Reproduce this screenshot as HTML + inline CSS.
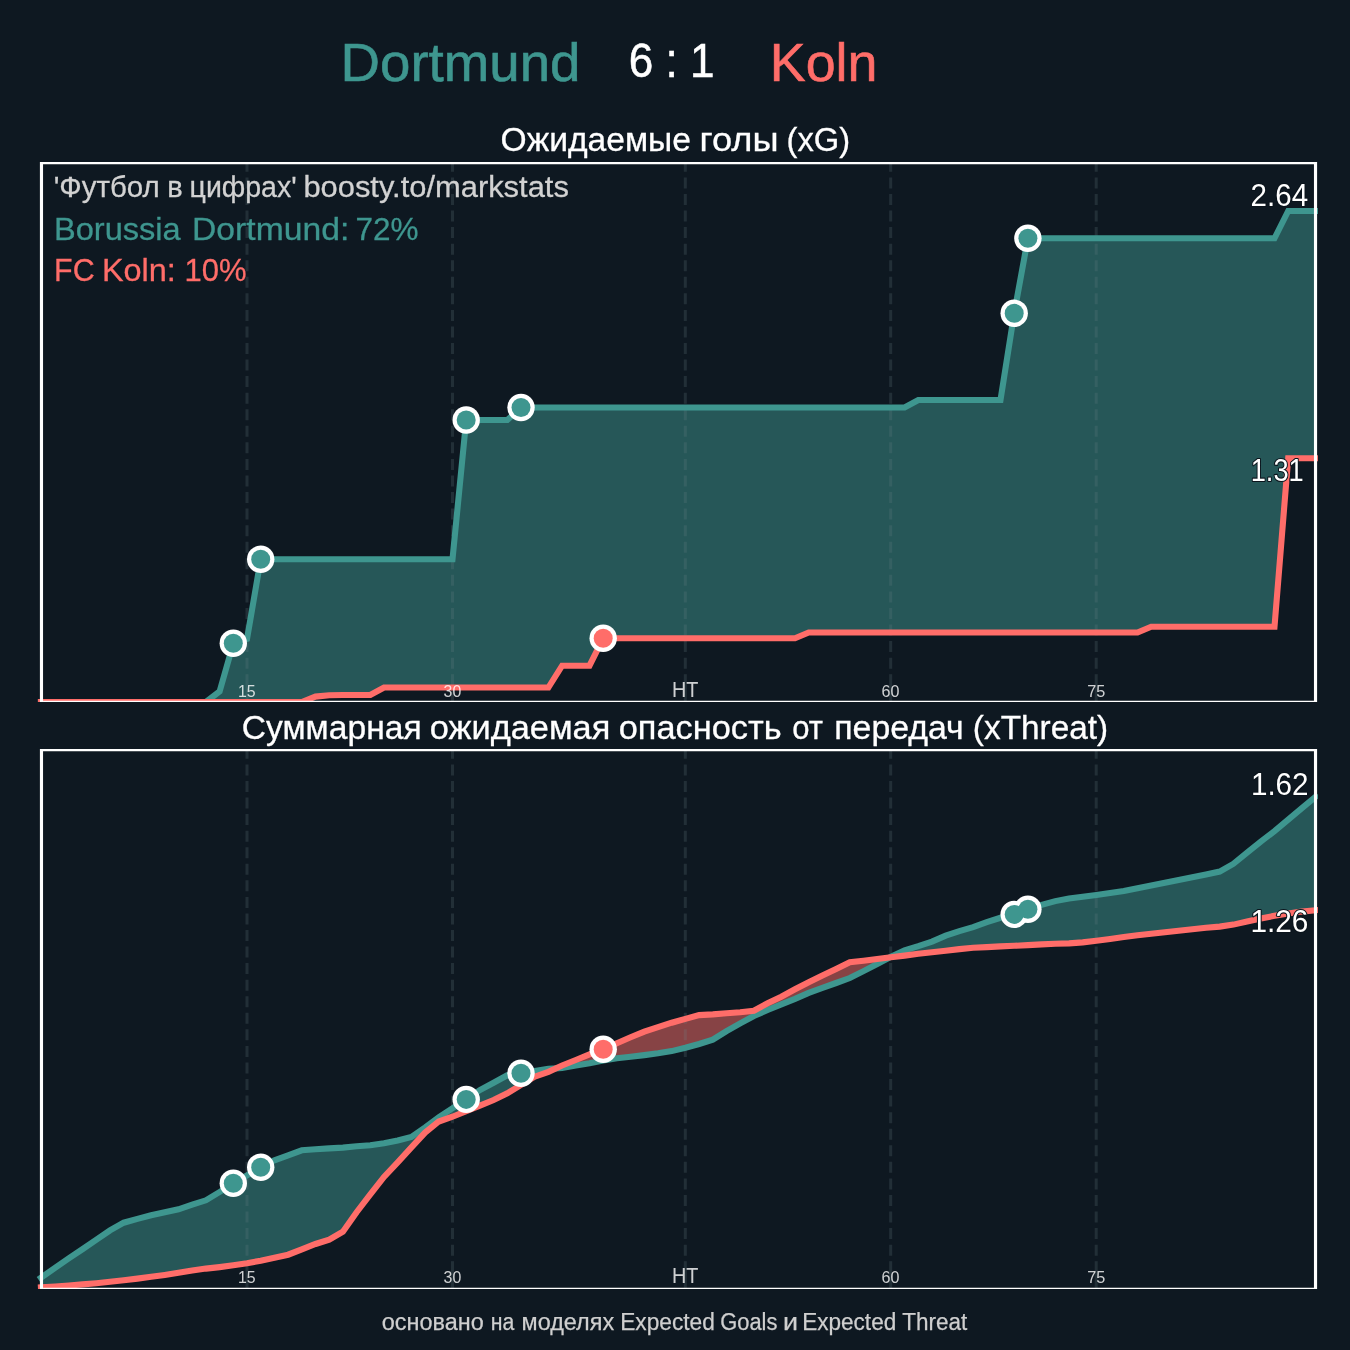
<!DOCTYPE html>
<html><head><meta charset="utf-8"><title>Dortmund 6 : 1 Koln</title>
<style>
html,body{margin:0;padding:0;background:#0e1821;}
svg{display:block;font-family:"Liberation Sans",sans-serif;}
</style></head><body>
<svg width="1350" height="1350" viewBox="0 0 1350 1350">
<rect width="1350" height="1350" fill="#0e1821"/>
<text x="340.59" y="80.8" font-size="54.5" fill="#3e968f" stroke="#3e968f" stroke-width="0.6" textLength="239.89" lengthAdjust="spacingAndGlyphs">Dortmund</text>
<text x="628.83" y="77.4" font-size="47.2" fill="#fff" stroke="#fff" stroke-width="0.5" textLength="85.78" lengthAdjust="spacingAndGlyphs">6 : 1</text>
<text x="769.79" y="80.8" font-size="54.5" fill="#ff6d69" stroke="#ff6d69" stroke-width="0.6" textLength="107.69" lengthAdjust="spacingAndGlyphs">Koln</text>
<text x="500.52" y="151.4" font-size="32.5" fill="#fff" stroke="#fff" stroke-width="0.3" textLength="190.45" lengthAdjust="spacingAndGlyphs">Ожидаемые</text><text x="699.53" y="151.4" font-size="32.5" fill="#fff" stroke="#fff" stroke-width="0.3" textLength="78.97" lengthAdjust="spacingAndGlyphs">голы</text><text x="786.52" y="151.4" font-size="32.5" fill="#fff" stroke="#fff" stroke-width="0.3" textLength="63.50" lengthAdjust="spacingAndGlyphs">(xG)</text>
<text x="241.81" y="738.5" font-size="32.5" fill="#fff" stroke="#fff" stroke-width="0.3" textLength="179.82" lengthAdjust="spacingAndGlyphs">Суммарная</text><text x="429.81" y="738.5" font-size="32.5" fill="#fff" stroke="#fff" stroke-width="0.3" textLength="180.51" lengthAdjust="spacingAndGlyphs">ожидаемая</text><text x="618.73" y="738.5" font-size="32.5" fill="#fff" stroke="#fff" stroke-width="0.3" textLength="162.96" lengthAdjust="spacingAndGlyphs">опасность</text><text x="792.13" y="738.5" font-size="32.5" fill="#fff" stroke="#fff" stroke-width="0.3" textLength="30.77" lengthAdjust="spacingAndGlyphs">от</text><text x="834.29" y="738.5" font-size="32.5" fill="#fff" stroke="#fff" stroke-width="0.3" textLength="129.45" lengthAdjust="spacingAndGlyphs">передач</text><text x="972.89" y="738.5" font-size="32.5" fill="#fff" stroke="#fff" stroke-width="0.3" textLength="135.32" lengthAdjust="spacingAndGlyphs">(xThreat)</text>
<text x="381.71" y="1330.2" font-size="24.7" fill="#cfcfcf" stroke="#cfcfcf" stroke-width="0.25" textLength="101.97" lengthAdjust="spacingAndGlyphs">основано</text><text x="490.70" y="1330.2" font-size="24.7" fill="#cfcfcf" stroke="#cfcfcf" stroke-width="0.25" textLength="23.59" lengthAdjust="spacingAndGlyphs">на</text><text x="521.59" y="1330.2" font-size="24.7" fill="#cfcfcf" stroke="#cfcfcf" stroke-width="0.25" textLength="92.51" lengthAdjust="spacingAndGlyphs">моделях</text><text x="620.13" y="1330.2" font-size="24.7" fill="#cfcfcf" stroke="#cfcfcf" stroke-width="0.25" textLength="94.73" lengthAdjust="spacingAndGlyphs">Expected</text><text x="720.20" y="1330.2" font-size="24.7" fill="#cfcfcf" stroke="#cfcfcf" stroke-width="0.25" textLength="57.20" lengthAdjust="spacingAndGlyphs">Goals</text><text x="783.05" y="1330.2" font-size="24.7" fill="#cfcfcf" stroke="#cfcfcf" stroke-width="0.25" textLength="15.01" lengthAdjust="spacingAndGlyphs">и</text><text x="802.16" y="1330.2" font-size="24.7" fill="#cfcfcf" stroke="#cfcfcf" stroke-width="0.25" textLength="94.09" lengthAdjust="spacingAndGlyphs">Expected</text><text x="902.31" y="1330.2" font-size="24.7" fill="#cfcfcf" stroke="#cfcfcf" stroke-width="0.25" textLength="65.09" lengthAdjust="spacingAndGlyphs">Threat</text>
<polygon points="205.90,702.0 219.60,691.5 233.30,643.3 247.00,639.0 260.70,559.3 274.40,559.3 288.10,559.3 301.80,559.3 315.50,559.3 329.20,559.3 342.90,559.3 356.60,559.3 370.30,559.3 384.00,559.3 397.70,559.3 411.40,559.3 425.10,559.3 438.80,559.3 452.50,559.3 466.20,420.0 479.90,420.0 493.60,420.0 507.30,420.0 521.00,407.5 534.70,407.5 548.40,407.5 562.10,407.5 575.80,407.5 589.50,407.5 603.20,407.5 616.90,407.5 630.60,407.5 644.30,407.5 658.00,407.5 671.70,407.5 685.40,407.5 699.10,407.5 712.80,407.5 726.50,407.5 740.20,407.5 753.90,407.5 767.60,407.5 781.30,407.5 795.00,407.5 808.70,407.5 822.40,407.5 836.10,407.5 849.80,407.5 863.50,407.5 877.20,407.5 890.90,407.5 904.60,407.5 918.30,400.0 932.00,400.0 945.70,400.0 959.40,400.0 973.10,400.0 986.80,400.0 1000.50,400.0 1014.20,313.3 1027.90,238.3 1041.60,238.3 1055.30,238.3 1069.00,238.3 1082.70,238.3 1096.40,238.3 1110.10,238.3 1123.80,238.3 1137.50,238.3 1151.20,238.3 1164.90,238.3 1178.60,238.3 1192.30,238.3 1206.00,238.3 1219.70,238.3 1233.40,238.3 1247.10,238.3 1260.80,238.3 1274.50,238.3 1288.20,211.0 1301.90,211.0 1315.60,211.0 1315.60,458.2 1301.90,458.2 1288.20,458.2 1274.50,626.7 1260.80,626.7 1247.10,626.7 1233.40,626.7 1219.70,626.7 1206.00,626.7 1192.30,626.7 1178.60,626.7 1164.90,626.7 1151.20,626.7 1137.50,632.5 1123.80,632.5 1110.10,632.5 1096.40,632.5 1082.70,632.5 1069.00,632.5 1055.30,632.5 1041.60,632.5 1027.90,632.5 1014.20,632.5 1000.50,632.5 986.80,632.5 973.10,632.5 959.40,632.5 945.70,632.5 932.00,632.5 918.30,632.5 904.60,632.5 890.90,632.5 877.20,632.5 863.50,632.5 849.80,632.5 836.10,632.5 822.40,632.5 808.70,632.5 795.00,638.3 781.30,638.3 767.60,638.3 753.90,638.3 740.20,638.3 726.50,638.3 712.80,638.3 699.10,638.3 685.40,638.3 671.70,638.3 658.00,638.3 644.30,638.3 630.60,638.3 616.90,638.3 603.20,638.3 589.50,665.7 575.80,665.7 562.10,665.7 548.40,687.5 534.70,687.5 521.00,687.5 507.30,687.5 493.60,687.5 479.90,687.5 466.20,687.5 452.50,687.5 438.80,687.5 425.10,687.5 411.40,687.5 397.70,687.5 384.00,687.5 370.30,695.0 356.60,695.0 342.90,695.0 329.20,695.3 315.50,696.6 301.80,702.0 288.10,702.0 274.40,702.0 260.70,702.0 247.00,702.0 233.30,702.0 219.60,702.0 205.90,702.0" fill="#3e968f" fill-opacity="0.5"/>
<path d="M247 702V674.2" stroke="#6d858a" stroke-opacity="0.22" stroke-width="3.0" fill="none"/>
<path d="M247 668.64V163" stroke="#6d858a" stroke-opacity="0.22" stroke-width="3.0" stroke-dasharray="11 5.56" fill="none"/>
<path d="M452.5 702V674.2" stroke="#6d858a" stroke-opacity="0.22" stroke-width="3.0" fill="none"/>
<path d="M452.5 668.64V163" stroke="#6d858a" stroke-opacity="0.22" stroke-width="3.0" stroke-dasharray="11 5.56" fill="none"/>
<path d="M685.3 702V674.2" stroke="#6d858a" stroke-opacity="0.22" stroke-width="3.0" fill="none"/>
<path d="M685.3 668.64V163" stroke="#6d858a" stroke-opacity="0.22" stroke-width="3.0" stroke-dasharray="11 5.56" fill="none"/>
<path d="M890.7 702V674.2" stroke="#6d858a" stroke-opacity="0.22" stroke-width="3.0" fill="none"/>
<path d="M890.7 668.64V163" stroke="#6d858a" stroke-opacity="0.22" stroke-width="3.0" stroke-dasharray="11 5.56" fill="none"/>
<path d="M1096.2 702V674.2" stroke="#6d858a" stroke-opacity="0.22" stroke-width="3.0" fill="none"/>
<path d="M1096.2 668.64V163" stroke="#6d858a" stroke-opacity="0.22" stroke-width="3.0" stroke-dasharray="11 5.56" fill="none"/>
<text x="53.69" y="197.2" font-size="30" fill="#d2d2d2" stroke="#d2d2d2" stroke-width="0.3" textLength="106.13" lengthAdjust="spacingAndGlyphs">'Футбол</text><text x="167.17" y="197.2" font-size="30" fill="#d2d2d2" stroke="#d2d2d2" stroke-width="0.3" textLength="15.45" lengthAdjust="spacingAndGlyphs">в</text><text x="189.57" y="197.2" font-size="30" fill="#d2d2d2" stroke="#d2d2d2" stroke-width="0.3" textLength="107.11" lengthAdjust="spacingAndGlyphs">цифрах'</text><text x="303.43" y="197.2" font-size="30" fill="#d2d2d2" stroke="#d2d2d2" stroke-width="0.3" textLength="265.40" lengthAdjust="spacingAndGlyphs">boosty.to/markstats</text>
<text x="53.98" y="240" font-size="32" fill="#3e968f" stroke="#3e968f" stroke-width="0.3" textLength="126.75" lengthAdjust="spacingAndGlyphs">Borussia</text><text x="191.97" y="240" font-size="32" fill="#3e968f" stroke="#3e968f" stroke-width="0.3" textLength="157.31" lengthAdjust="spacingAndGlyphs">Dortmund:</text><text x="355.48" y="240" font-size="32" fill="#3e968f" stroke="#3e968f" stroke-width="0.3" textLength="63.05" lengthAdjust="spacingAndGlyphs">72%</text>
<text x="54.09" y="281.3" font-size="32" fill="#ff6d69" stroke="#ff6d69" stroke-width="0.3" textLength="40.53" lengthAdjust="spacingAndGlyphs">FC</text><text x="101.93" y="281.3" font-size="32" fill="#ff6d69" stroke="#ff6d69" stroke-width="0.3" textLength="73.91" lengthAdjust="spacingAndGlyphs">Koln:</text><text x="184.43" y="281.3" font-size="32" fill="#ff6d69" stroke="#ff6d69" stroke-width="0.3" textLength="62.02" lengthAdjust="spacingAndGlyphs">10%</text>
<clipPath id="c163"><rect x="30" y="161.9" width="1288" height="540.1"/></clipPath><g clip-path="url(#c163)">
<polyline points="40.95,702.0 55.20,702.0 68.90,702.0 82.60,702.0 96.30,702.0 110.00,702.0 123.70,702.0 137.40,702.0 151.10,702.0 164.80,702.0 178.50,702.0 192.20,702.0 205.90,702.0 219.60,691.5 233.30,643.3 247.00,639.0 260.70,559.3 274.40,559.3 288.10,559.3 301.80,559.3 315.50,559.3 329.20,559.3 342.90,559.3 356.60,559.3 370.30,559.3 384.00,559.3 397.70,559.3 411.40,559.3 425.10,559.3 438.80,559.3 452.50,559.3 466.20,420.0 479.90,420.0 493.60,420.0 507.30,420.0 521.00,407.5 534.70,407.5 548.40,407.5 562.10,407.5 575.80,407.5 589.50,407.5 603.20,407.5 616.90,407.5 630.60,407.5 644.30,407.5 658.00,407.5 671.70,407.5 685.40,407.5 699.10,407.5 712.80,407.5 726.50,407.5 740.20,407.5 753.90,407.5 767.60,407.5 781.30,407.5 795.00,407.5 808.70,407.5 822.40,407.5 836.10,407.5 849.80,407.5 863.50,407.5 877.20,407.5 890.90,407.5 904.60,407.5 918.30,400.0 932.00,400.0 945.70,400.0 959.40,400.0 973.10,400.0 986.80,400.0 1000.50,400.0 1014.20,313.3 1027.90,238.3 1041.60,238.3 1055.30,238.3 1069.00,238.3 1082.70,238.3 1096.40,238.3 1110.10,238.3 1123.80,238.3 1137.50,238.3 1151.20,238.3 1164.90,238.3 1178.60,238.3 1192.30,238.3 1206.00,238.3 1219.70,238.3 1233.40,238.3 1247.10,238.3 1260.80,238.3 1274.50,238.3 1288.20,211.0 1301.90,211.0 1315.60,211.0" fill="none" stroke="#3e968f" stroke-width="6.1" stroke-linecap="square" stroke-linejoin="miter" stroke-miterlimit="10"/>
<polyline points="40.95,702.0 55.20,702.0 68.90,702.0 82.60,702.0 96.30,702.0 110.00,702.0 123.70,702.0 137.40,702.0 151.10,702.0 164.80,702.0 178.50,702.0 192.20,702.0 205.90,702.0 219.60,702.0 233.30,702.0 247.00,702.0 260.70,702.0 274.40,702.0 288.10,702.0 301.80,702.0 315.50,696.6 329.20,695.3 342.90,695.0 356.60,695.0 370.30,695.0 384.00,687.5 397.70,687.5 411.40,687.5 425.10,687.5 438.80,687.5 452.50,687.5 466.20,687.5 479.90,687.5 493.60,687.5 507.30,687.5 521.00,687.5 534.70,687.5 548.40,687.5 562.10,665.7 575.80,665.7 589.50,665.7 603.20,638.3 616.90,638.3 630.60,638.3 644.30,638.3 658.00,638.3 671.70,638.3 685.40,638.3 699.10,638.3 712.80,638.3 726.50,638.3 740.20,638.3 753.90,638.3 767.60,638.3 781.30,638.3 795.00,638.3 808.70,632.5 822.40,632.5 836.10,632.5 849.80,632.5 863.50,632.5 877.20,632.5 890.90,632.5 904.60,632.5 918.30,632.5 932.00,632.5 945.70,632.5 959.40,632.5 973.10,632.5 986.80,632.5 1000.50,632.5 1014.20,632.5 1027.90,632.5 1041.60,632.5 1055.30,632.5 1069.00,632.5 1082.70,632.5 1096.40,632.5 1110.10,632.5 1123.80,632.5 1137.50,632.5 1151.20,626.7 1164.90,626.7 1178.60,626.7 1192.30,626.7 1206.00,626.7 1219.70,626.7 1233.40,626.7 1247.10,626.7 1260.80,626.7 1274.50,626.7 1288.20,458.2 1301.90,458.2 1315.60,458.2" fill="none" stroke="#ff6d69" stroke-width="6.1" stroke-linecap="square" stroke-linejoin="miter" stroke-miterlimit="10"/>
</g>
<text x="238.03" y="696.9" font-size="16.2" fill="#fff" fill-opacity="0.8" textLength="17.67" lengthAdjust="spacingAndGlyphs">15</text>
<text x="443.62" y="696.9" font-size="16.2" fill="#fff" fill-opacity="0.8" textLength="17.63" lengthAdjust="spacingAndGlyphs">30</text>
<text x="672.09" y="696.9" font-size="22" fill="#fff" fill-opacity="0.8" textLength="26.37" lengthAdjust="spacingAndGlyphs">HT</text>
<text x="881.62" y="696.9" font-size="16.2" fill="#fff" fill-opacity="0.8" textLength="17.91" lengthAdjust="spacingAndGlyphs">60</text>
<text x="1087.13" y="696.9" font-size="16.2" fill="#fff" fill-opacity="0.8" textLength="18.05" lengthAdjust="spacingAndGlyphs">75</text>
<rect x="30" y="702" width="1300" height="8" fill="#0e1821"/>
<path d="M39.9 161.9H1317.1V702H1313.95V164.20000000000002H43.05V702H39.9Z M43.05 700.7H1313.95V702H43.05Z" fill="#fff"/>
<circle cx="233.3" cy="643.3" r="13.7" fill="#fff"/>
<circle cx="260.7" cy="559.3" r="13.7" fill="#fff"/>
<circle cx="466.2" cy="420.0" r="13.7" fill="#fff"/>
<circle cx="521.0" cy="407.5" r="13.7" fill="#fff"/>
<circle cx="1014.2" cy="313.3" r="13.7" fill="#fff"/>
<circle cx="1027.9" cy="238.3" r="13.7" fill="#fff"/>
<circle cx="603.2" cy="638.3" r="13.7" fill="#fff"/>
<circle cx="233.3" cy="643.3" r="9.5" fill="#3e968f"/>
<circle cx="260.7" cy="559.3" r="9.5" fill="#3e968f"/>
<circle cx="466.2" cy="420.0" r="9.5" fill="#3e968f"/>
<circle cx="521.0" cy="407.5" r="9.5" fill="#3e968f"/>
<circle cx="1014.2" cy="313.3" r="9.5" fill="#3e968f"/>
<circle cx="1027.9" cy="238.3" r="9.5" fill="#3e968f"/>
<circle cx="603.2" cy="638.3" r="9.5" fill="#ff6d69"/>
<text x="1250.57" y="205.7" font-size="30.8" fill="#fff" stroke="#0b141c" stroke-width="2.2" paint-order="stroke" stroke-linejoin="round" textLength="57.52" lengthAdjust="spacingAndGlyphs">2.64</text>
<text x="1250.72" y="480.6" font-size="30.8" fill="#fff" stroke="#0b141c" stroke-width="2.2" paint-order="stroke" stroke-linejoin="round" textLength="53.05" lengthAdjust="spacingAndGlyphs">1.31</text>
<polygon points="41.50,1277.3 55.20,1267.7 68.90,1258.3 82.60,1249.1 96.30,1239.7 110.00,1230.4 123.70,1222.7 137.40,1218.9 151.10,1215.3 164.80,1212.3 178.50,1209.3 192.20,1204.7 205.90,1200.3 219.60,1192.0 233.30,1183.3 247.00,1175.3 260.70,1167.3 274.40,1160.4 288.10,1155.3 301.80,1150.3 315.50,1149.3 329.20,1148.4 342.90,1147.6 356.60,1146.3 370.30,1145.2 384.00,1143.2 397.70,1140.4 411.40,1137.0 425.10,1127.4 438.80,1117.3 452.50,1108.3 466.20,1099.4 479.90,1090.0 493.60,1082.8 507.30,1075.3 521.00,1073.3 534.70,1071.1 548.40,1068.9 555.76,1068.4 555.76,1068.4 548.40,1071.8 534.70,1076.7 521.00,1085.0 507.30,1093.3 493.60,1100.0 479.90,1105.6 466.20,1111.1 452.50,1116.7 438.80,1121.5 425.10,1132.6 411.40,1147.4 397.70,1162.4 384.00,1176.9 370.30,1194.4 356.60,1212.2 342.90,1231.7 329.20,1239.6 315.50,1244.0 301.80,1249.3 288.10,1254.7 274.40,1257.7 260.70,1260.7 247.00,1263.3 233.30,1265.3 219.60,1267.1 205.90,1268.6 192.20,1270.6 178.50,1272.7 164.80,1274.9 151.10,1276.8 137.40,1278.6 123.70,1280.3 110.00,1281.8 96.30,1283.2 82.60,1284.4 68.90,1285.5 55.20,1286.5 41.50,1287.3" fill="#3e968f" fill-opacity="0.5"/>
<polygon points="889.46,957.5 890.90,956.7 904.60,950.4 918.30,946.2 932.00,941.6 945.70,935.6 959.40,931.1 973.10,927.1 986.80,922.2 1000.50,917.8 1014.20,914.4 1027.90,909.3 1041.60,904.9 1055.30,901.1 1069.00,898.4 1082.70,896.7 1096.40,894.9 1110.10,892.9 1123.80,891.1 1137.50,888.2 1151.20,885.6 1164.90,882.7 1178.60,880.0 1192.30,877.3 1206.00,874.4 1219.70,871.6 1233.40,863.8 1247.10,852.7 1260.80,841.6 1274.50,831.1 1288.20,819.6 1301.90,808.2 1315.60,796.7 1315.60,910.2 1301.90,911.6 1288.20,913.4 1274.50,915.8 1260.80,918.5 1247.10,921.5 1233.40,924.6 1219.70,926.6 1206.00,927.8 1192.30,929.3 1178.60,930.7 1164.90,932.2 1151.20,933.8 1137.50,935.3 1123.80,937.1 1110.10,938.9 1096.40,940.7 1082.70,942.4 1069.00,943.4 1055.30,943.8 1041.60,944.4 1027.90,945.1 1014.20,945.8 1000.50,946.4 986.80,947.1 973.10,947.8 959.40,949.1 945.70,950.7 932.00,952.2 918.30,953.8 904.60,955.6 890.90,957.3 889.46,957.5" fill="#3e968f" fill-opacity="0.5"/>
<polygon points="555.76,1068.4 562.10,1068.0 575.80,1065.6 589.50,1063.3 603.20,1060.4 616.90,1058.2 630.60,1056.7 644.30,1055.1 658.00,1053.3 671.70,1051.1 685.40,1047.8 699.10,1044.0 712.80,1039.6 726.50,1031.1 740.20,1023.3 753.90,1016.0 767.60,1010.0 781.30,1004.4 795.00,998.9 808.70,992.9 822.40,987.8 836.10,983.0 849.80,978.0 863.50,971.1 877.20,964.0 889.46,957.5 889.46,957.5 877.20,958.9 863.50,960.7 849.80,962.2 836.10,969.0 822.40,975.6 808.70,982.2 795.00,989.3 781.30,996.7 767.60,1003.3 753.90,1010.7 740.20,1012.2 726.50,1013.3 712.80,1014.4 699.10,1015.1 685.40,1018.9 671.70,1022.7 658.00,1027.1 644.30,1031.6 630.60,1037.3 616.90,1043.3 603.20,1049.3 589.50,1054.4 575.80,1060.0 562.10,1065.5 555.76,1068.4" fill="#ff6d69" fill-opacity="0.5"/>
<path d="M247 1289V1261.2" stroke="#6d858a" stroke-opacity="0.22" stroke-width="3.0" fill="none"/>
<path d="M247 1255.64V750" stroke="#6d858a" stroke-opacity="0.22" stroke-width="3.0" stroke-dasharray="11 5.56" fill="none"/>
<path d="M452.5 1289V1261.2" stroke="#6d858a" stroke-opacity="0.22" stroke-width="3.0" fill="none"/>
<path d="M452.5 1255.64V750" stroke="#6d858a" stroke-opacity="0.22" stroke-width="3.0" stroke-dasharray="11 5.56" fill="none"/>
<path d="M685.3 1289V1261.2" stroke="#6d858a" stroke-opacity="0.22" stroke-width="3.0" fill="none"/>
<path d="M685.3 1255.64V750" stroke="#6d858a" stroke-opacity="0.22" stroke-width="3.0" stroke-dasharray="11 5.56" fill="none"/>
<path d="M890.7 1289V1261.2" stroke="#6d858a" stroke-opacity="0.22" stroke-width="3.0" fill="none"/>
<path d="M890.7 1255.64V750" stroke="#6d858a" stroke-opacity="0.22" stroke-width="3.0" stroke-dasharray="11 5.56" fill="none"/>
<path d="M1096.2 1289V1261.2" stroke="#6d858a" stroke-opacity="0.22" stroke-width="3.0" fill="none"/>
<path d="M1096.2 1255.64V750" stroke="#6d858a" stroke-opacity="0.22" stroke-width="3.0" stroke-dasharray="11 5.56" fill="none"/>

<clipPath id="c750"><rect x="30" y="748.9" width="1288" height="540.1"/></clipPath><g clip-path="url(#c750)">
<polyline points="40.95,1277.7 55.20,1267.7 68.90,1258.3 82.60,1249.1 96.30,1239.7 110.00,1230.4 123.70,1222.7 137.40,1218.9 151.10,1215.3 164.80,1212.3 178.50,1209.3 192.20,1204.7 205.90,1200.3 219.60,1192.0 233.30,1183.3 247.00,1175.3 260.70,1167.3 274.40,1160.4 288.10,1155.3 301.80,1150.3 315.50,1149.3 329.20,1148.4 342.90,1147.6 356.60,1146.3 370.30,1145.2 384.00,1143.2 397.70,1140.4 411.40,1137.0 425.10,1127.4 438.80,1117.3 452.50,1108.3 466.20,1099.4 479.90,1090.0 493.60,1082.8 507.30,1075.3 521.00,1073.3 534.70,1071.1 548.40,1068.9 562.10,1068.0 575.80,1065.6 589.50,1063.3 603.20,1060.4 616.90,1058.2 630.60,1056.7 644.30,1055.1 658.00,1053.3 671.70,1051.1 685.40,1047.8 699.10,1044.0 712.80,1039.6 726.50,1031.1 740.20,1023.3 753.90,1016.0 767.60,1010.0 781.30,1004.4 795.00,998.9 808.70,992.9 822.40,987.8 836.10,983.0 849.80,978.0 863.50,971.1 877.20,964.0 890.90,956.7 904.60,950.4 918.30,946.2 932.00,941.6 945.70,935.6 959.40,931.1 973.10,927.1 986.80,922.2 1000.50,917.8 1014.20,914.4 1027.90,909.3 1041.60,904.9 1055.30,901.1 1069.00,898.4 1082.70,896.7 1096.40,894.9 1110.10,892.9 1123.80,891.1 1137.50,888.2 1151.20,885.6 1164.90,882.7 1178.60,880.0 1192.30,877.3 1206.00,874.4 1219.70,871.6 1233.40,863.8 1247.10,852.7 1260.80,841.6 1274.50,831.1 1288.20,819.6 1301.90,808.2 1315.60,796.7" fill="none" stroke="#3e968f" stroke-width="6.1" stroke-linecap="square" stroke-linejoin="miter" stroke-miterlimit="10"/>
<polyline points="40.95,1287.3 55.20,1286.5 68.90,1285.5 82.60,1284.4 96.30,1283.2 110.00,1281.8 123.70,1280.3 137.40,1278.6 151.10,1276.8 164.80,1274.9 178.50,1272.7 192.20,1270.6 205.90,1268.6 219.60,1267.1 233.30,1265.3 247.00,1263.3 260.70,1260.7 274.40,1257.7 288.10,1254.7 301.80,1249.3 315.50,1244.0 329.20,1239.6 342.90,1231.7 356.60,1212.2 370.30,1194.4 384.00,1176.9 397.70,1162.4 411.40,1147.4 425.10,1132.6 438.80,1121.5 452.50,1116.7 466.20,1111.1 479.90,1105.6 493.60,1100.0 507.30,1093.3 521.00,1085.0 534.70,1076.7 548.40,1071.8 562.10,1065.5 575.80,1060.0 589.50,1054.4 603.20,1049.3 616.90,1043.3 630.60,1037.3 644.30,1031.6 658.00,1027.1 671.70,1022.7 685.40,1018.9 699.10,1015.1 712.80,1014.4 726.50,1013.3 740.20,1012.2 753.90,1010.7 767.60,1003.3 781.30,996.7 795.00,989.3 808.70,982.2 822.40,975.6 836.10,969.0 849.80,962.2 863.50,960.7 877.20,958.9 890.90,957.3 904.60,955.6 918.30,953.8 932.00,952.2 945.70,950.7 959.40,949.1 973.10,947.8 986.80,947.1 1000.50,946.4 1014.20,945.8 1027.90,945.1 1041.60,944.4 1055.30,943.8 1069.00,943.4 1082.70,942.4 1096.40,940.7 1110.10,938.9 1123.80,937.1 1137.50,935.3 1151.20,933.8 1164.90,932.2 1178.60,930.7 1192.30,929.3 1206.00,927.8 1219.70,926.6 1233.40,924.6 1247.10,921.5 1260.80,918.5 1274.50,915.8 1288.20,913.4 1301.90,911.6 1315.60,910.2" fill="none" stroke="#ff6d69" stroke-width="6.1" stroke-linecap="square" stroke-linejoin="miter" stroke-miterlimit="10"/>
</g>
<text x="238.03" y="1283.0" font-size="16.2" fill="#fff" fill-opacity="0.8" textLength="17.67" lengthAdjust="spacingAndGlyphs">15</text>
<text x="443.62" y="1283.0" font-size="16.2" fill="#fff" fill-opacity="0.8" textLength="17.63" lengthAdjust="spacingAndGlyphs">30</text>
<text x="672.09" y="1283.0" font-size="22" fill="#fff" fill-opacity="0.8" textLength="26.37" lengthAdjust="spacingAndGlyphs">HT</text>
<text x="881.62" y="1283.0" font-size="16.2" fill="#fff" fill-opacity="0.8" textLength="17.91" lengthAdjust="spacingAndGlyphs">60</text>
<text x="1087.13" y="1283.0" font-size="16.2" fill="#fff" fill-opacity="0.8" textLength="18.05" lengthAdjust="spacingAndGlyphs">75</text>
<rect x="30" y="1289" width="1300" height="8" fill="#0e1821"/>
<path d="M39.9 748.9H1317.1V1289H1313.95V751.1999999999999H43.05V1289H39.9Z M43.05 1287.7H1313.95V1289H43.05Z" fill="#fff"/>
<circle cx="233.3" cy="1183.3" r="13.7" fill="#fff"/>
<circle cx="260.7" cy="1167.3" r="13.7" fill="#fff"/>
<circle cx="466.2" cy="1099.4" r="13.7" fill="#fff"/>
<circle cx="521.0" cy="1073.3" r="13.7" fill="#fff"/>
<circle cx="1027.9" cy="909.3" r="13.7" fill="#fff"/>
<circle cx="1014.2" cy="914.4" r="13.7" fill="#fff"/>
<circle cx="603.2" cy="1049.3" r="13.7" fill="#fff"/>
<circle cx="233.3" cy="1183.3" r="9.5" fill="#3e968f"/>
<circle cx="260.7" cy="1167.3" r="9.5" fill="#3e968f"/>
<circle cx="466.2" cy="1099.4" r="9.5" fill="#3e968f"/>
<circle cx="521.0" cy="1073.3" r="9.5" fill="#3e968f"/>
<circle cx="1027.9" cy="909.3" r="9.5" fill="#3e968f"/>
<circle cx="1014.2" cy="914.4" r="9.5" fill="#3e968f"/>
<circle cx="603.2" cy="1049.3" r="9.5" fill="#ff6d69"/>
<text x="1250.90" y="795.2" font-size="30.8" fill="#fff" stroke="#0b141c" stroke-width="2.2" paint-order="stroke" stroke-linejoin="round" textLength="57.71" lengthAdjust="spacingAndGlyphs">1.62</text>
<text x="1250.38" y="931.5" font-size="30.8" fill="#fff" stroke="#0b141c" stroke-width="2.2" paint-order="stroke" stroke-linejoin="round" textLength="58.02" lengthAdjust="spacingAndGlyphs">1.26</text>
</svg>
</body></html>
